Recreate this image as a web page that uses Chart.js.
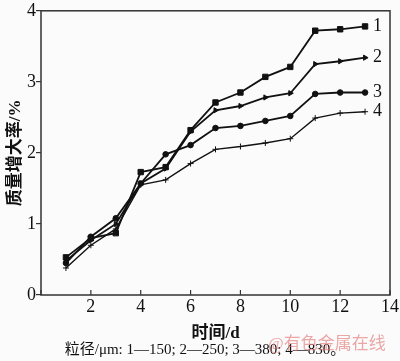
<!DOCTYPE html>
<html>
<head>
<meta charset="utf-8">
<script src="https://cdn.jsdelivr.net/npm/chart.js@4.4.0/dist/chart.umd.min.js"></script>
<style>
  html, body { margin: 0; padding: 0; background: #fbfbfb; }
  #wrap { width: 400px; height: 361px; }
</style>
</head>
<body>
<div id="wrap"><canvas id="myChart"></canvas></div>
<script>
// 时间/d
const days = [1, 2, 3, 4, 5, 6, 7, 8, 9, 10, 11, 12, 13];
// 质量增大率/%, 粒径 150, 250, 380, 830 μm
const rate150 = [0.53, 0.80, 0.87, 1.73, 1.80, 2.32, 2.71, 2.85, 3.07, 3.21, 3.72, 3.74, 3.78];
const rate250 = [0.48, 0.77, 1.00, 1.57, 1.78, 2.30, 2.60, 2.66, 2.78, 2.84, 3.25, 3.29, 3.34];
const rate380 = [0.45, 0.82, 1.08, 1.57, 1.98, 2.11, 2.35, 2.38, 2.45, 2.52, 2.83, 2.85, 2.85];
const rate830 = [0.38, 0.70, 0.93, 1.55, 1.62, 1.85, 2.05, 2.09, 2.14, 2.20, 2.49, 2.56, 2.58];
const seriesNames = ['1', '2', '3', '4'];
const xTicks = [0, 2, 4, 6, 8, 10, 12, 14];
const yTicks = [0, 1, 2, 3, 4];

const serif = "'Liberation Serif', 'Noto Sans CJK SC', serif";

function toPoints(vals) {
    return days.map((d, i) => ({ x: d, y: vals[i] }));
}

// 边框、向内的x刻度、曲线编号和图注
const extras = {
    id: 'extras',
    afterDraw(chart) {
        const ctx = chart.ctx;
        const a = chart.chartArea;
        const xs = chart.scales.x;
        const ys = chart.scales.y;
        ctx.save();
        ctx.strokeStyle = '#333';
        ctx.lineWidth = 1.5;
        ctx.strokeRect(a.left, a.top, a.right - a.left, a.bottom - a.top);
        ctx.lineWidth = 1.2;
        xTicks.forEach(v => {
            const px = xs.getPixelForValue(v);
            ctx.beginPath();
            ctx.moveTo(px, a.bottom);
            ctx.lineTo(px, a.bottom - 5);
            ctx.stroke();
        });
        // 曲线编号
        ctx.fillStyle = '#111';
        ctx.font = '18px ' + serif;
        ctx.textAlign = 'center';
        ctx.textBaseline = 'middle';
        chart.data.datasets.forEach((ds, i) => {
            const last = ds.data[ds.data.length - 1];
            ctx.fillText(seriesNames[i], xs.getPixelForValue(13.5), ys.getPixelForValue(last.y));
        });
        // 图注
        ctx.font = '15px ' + serif;
        ctx.fillText('粒径/μm: 1—150; 2—250; 3—380; 4—830。', 205, 350);
        // 水印
        ctx.font = '17px ' + serif;
        ctx.fillStyle = 'rgba(225, 110, 110, 0.6)';
        ctx.textAlign = 'left';
        ctx.fillText('@有色金属在线', 268, 345);
        ctx.restore();
    }
};

const common = { borderColor: '#111', backgroundColor: '#111', borderWidth: 1.8, pointBorderWidth: 1, fill: false, tension: 0 };

const ctx = document.getElementById('myChart').getContext('2d');
const myChart = new Chart(ctx, {
    type: 'line',
    data: {
        datasets: [
            Object.assign({ label: '1', data: toPoints(rate150), pointStyle: 'rect', pointRadius: 3.8 }, common),
            Object.assign({ label: '2', data: toPoints(rate250), pointStyle: 'triangle', rotation: 90, pointRadius: 3 }, common),
            Object.assign({ label: '3', data: toPoints(rate380), pointStyle: 'circle', pointRadius: 2.8 }, common),
            Object.assign({ label: '4', data: toPoints(rate830), pointStyle: 'cross', pointRadius: 3 }, common, { borderWidth: 1.4 })
        ]
    },
    options: {
        responsive: true,
        maintainAspectRatio: false,
        animation: false,
        layout: { padding: { top: 6, right: 7, left: 0, bottom: 0 } },
        plugins: {
            legend: { display: false },
            tooltip: { enabled: false }
        },
        scales: {
            x: {
                type: 'linear',
                min: 0,
                max: 14,
                afterBuildTicks: s => { s.ticks = xTicks.filter(v => v > 0).map(v => ({ value: v })); },
                afterFit: s => { s.height = 66; },
                grid: { display: false, drawTicks: false },
                border: { display: false },
                ticks: { color: '#111', font: { family: serif, size: 18 }, padding: 1, maxRotation: 0 },
                title: {
                    display: true,
                    text: '时间/d',
                    color: '#111',
                    font: { family: serif, size: 17, weight: 'bold' },
                    padding: { top: 0, bottom: 17 }
                }
            },
            y: {
                min: 0,
                max: 4,
                afterBuildTicks: s => { s.ticks = yTicks.map(v => ({ value: v })); },
                afterFit: s => { s.width = 41; },
                grid: { drawOnChartArea: false, drawTicks: true, tickLength: 5, color: '#333', lineWidth: 1.2 },
                border: { display: false },
                ticks: { color: '#111', font: { family: serif, size: 18 }, padding: 0 },
                title: {
                    display: true,
                    text: '质量增大率/%',
                    color: '#111',
                    font: { family: serif, size: 17, weight: 'bold' },
                    padding: { top: 5, bottom: 0 }
                }
            }
        }
    },
    plugins: [extras]
});
</script>
</body>
</html>
